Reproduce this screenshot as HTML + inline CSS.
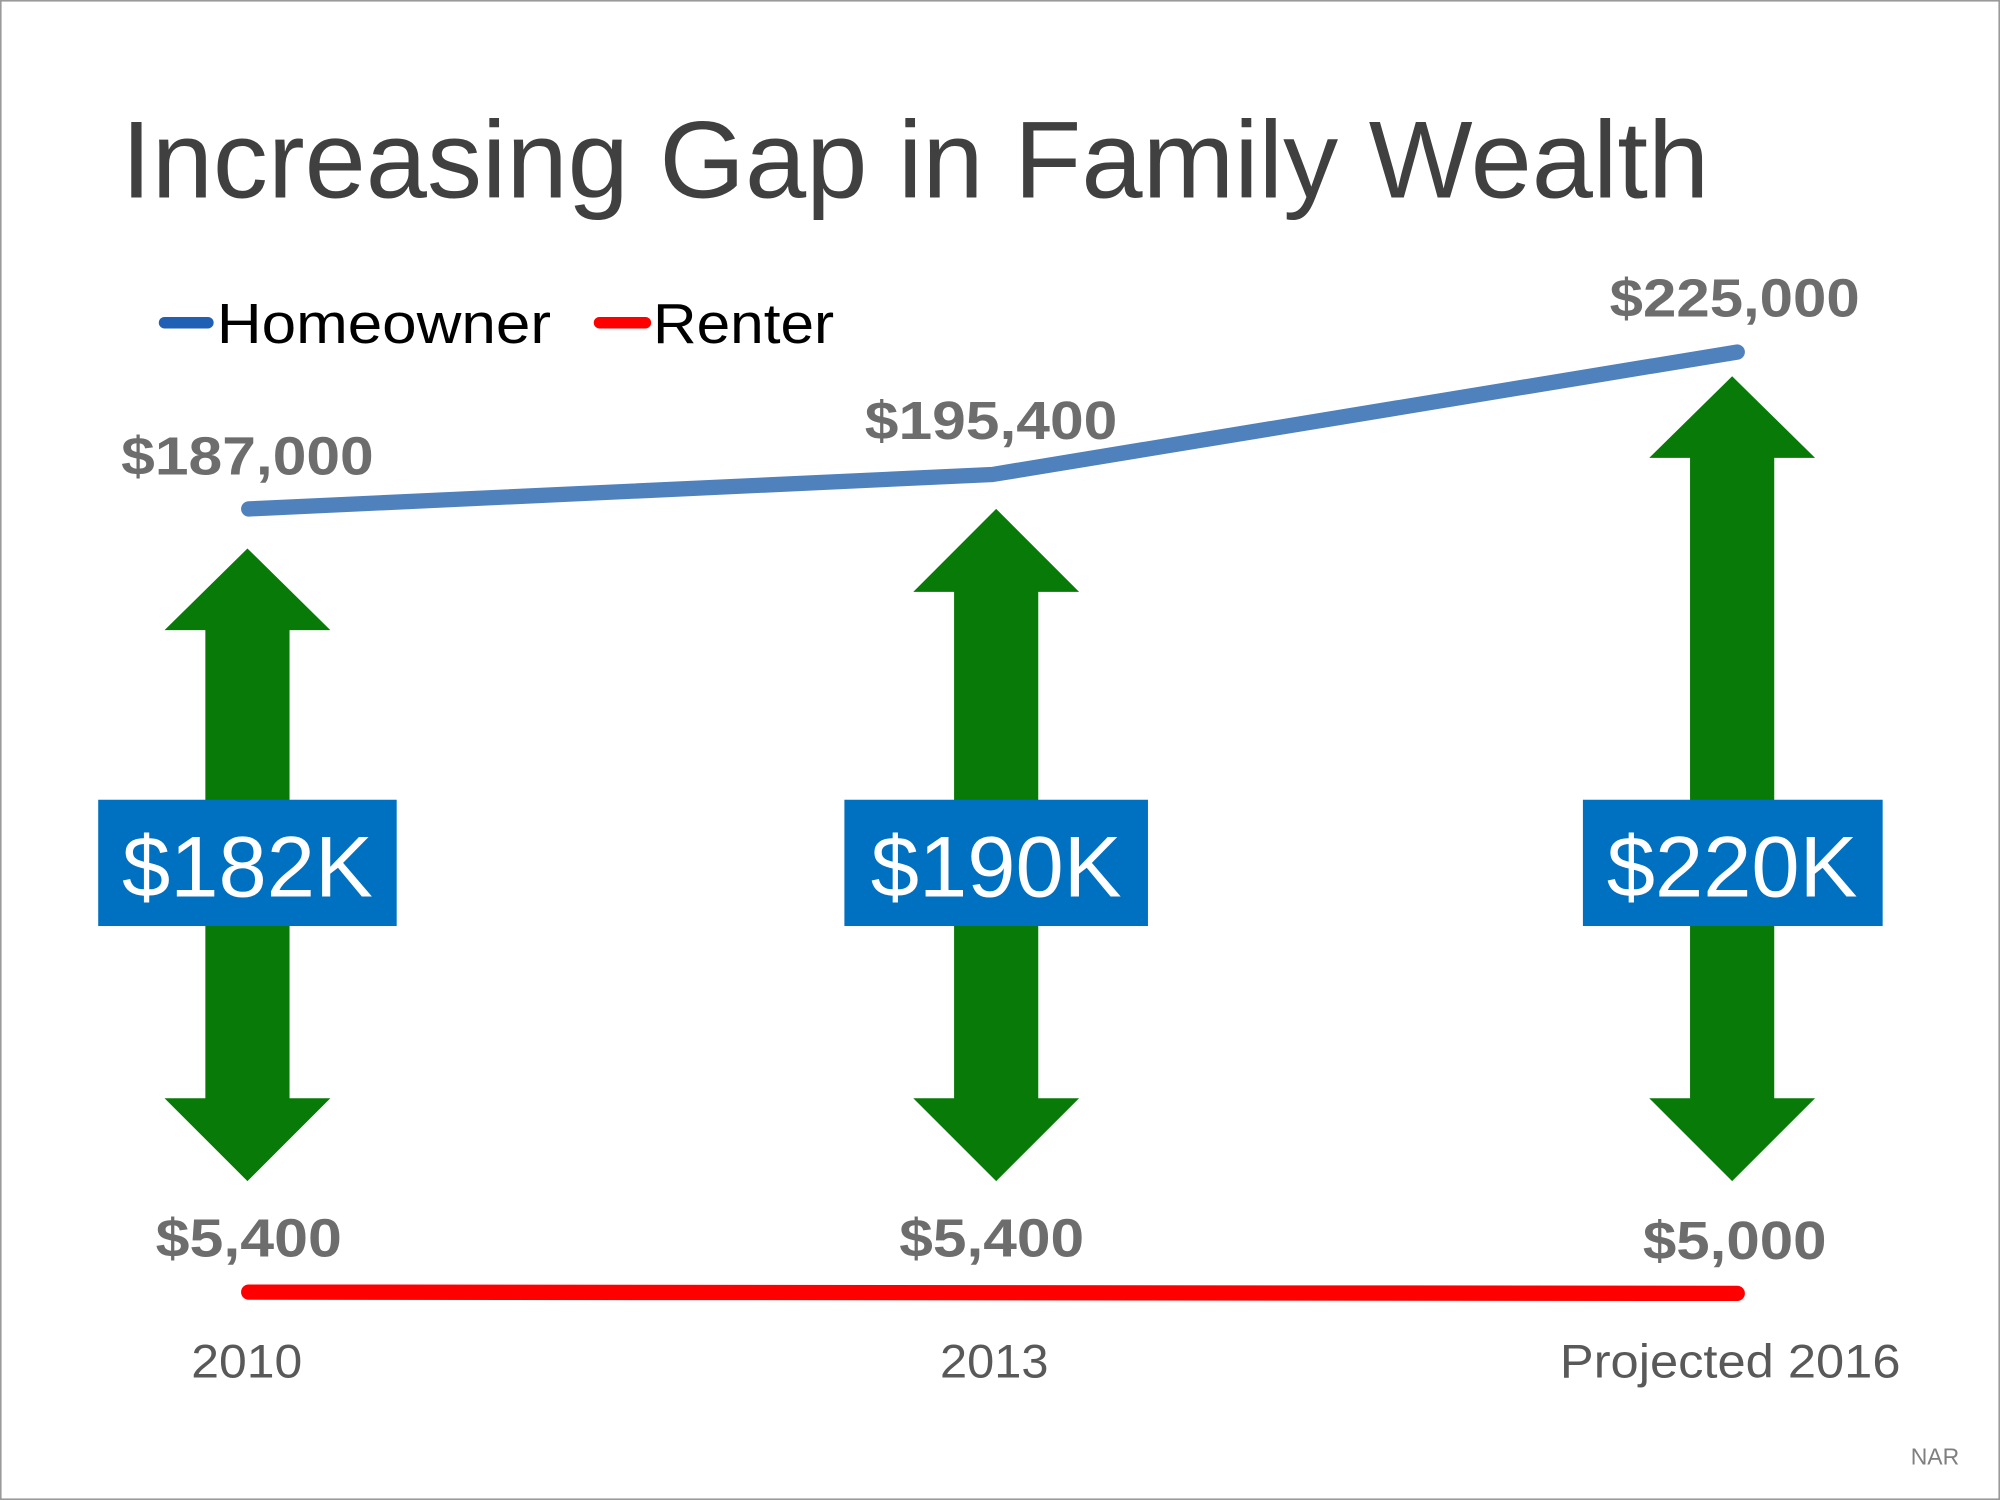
<!DOCTYPE html>
<html><head><style>html,body{margin:0;padding:0;background:#fff}svg{display:block}</style></head>
<body>
<svg width="2000" height="1500" viewBox="0 0 1568 1176" xmlns="http://www.w3.org/2000/svg" font-family="Liberation Sans, sans-serif">
<rect x="0.5" y="0.5" width="1567" height="1175" fill="#fff" stroke="#9a9a9a" stroke-width="1.5"/>
<text x="95" y="155" font-size="86" fill="#404040" textLength="1245" lengthAdjust="spacingAndGlyphs">Increasing Gap in Family Wealth</text>
<line x1="129" y1="253" x2="163" y2="253" stroke="#1f5fb4" stroke-width="9" stroke-linecap="round"/>
<text x="170" y="269" font-size="44" fill="#000" textLength="262" lengthAdjust="spacingAndGlyphs">Homeowner</text>
<line x1="470" y1="253" x2="506" y2="253" stroke="#ff0000" stroke-width="9" stroke-linecap="round"/>
<text x="512" y="269" font-size="44" fill="#000" textLength="142" lengthAdjust="spacingAndGlyphs">Renter</text>
<polyline points="195,399 778,372 1362,276" fill="none" stroke="#4f81bd" stroke-width="12" stroke-linecap="round" stroke-linejoin="round"/>
<line x1="195" y1="1013" x2="1362" y2="1014" stroke="#ff0000" stroke-width="12" stroke-linecap="round"/>
<g font-size="42" font-weight="bold" fill="#6d6d6d">
<text x="95" y="372" textLength="198" lengthAdjust="spacingAndGlyphs">$187,000</text>
<text x="678" y="344" textLength="198" lengthAdjust="spacingAndGlyphs">$195,400</text>
<text x="1262" y="248" textLength="196" lengthAdjust="spacingAndGlyphs">$225,000</text>
<text x="122" y="985" textLength="146" lengthAdjust="spacingAndGlyphs">$5,400</text>
<text x="705" y="985" textLength="145" lengthAdjust="spacingAndGlyphs">$5,400</text>
<text x="1288" y="987" textLength="144" lengthAdjust="spacingAndGlyphs">$5,000</text>
</g>
<g font-size="37" fill="#595959">
<text x="150" y="1080" textLength="87" lengthAdjust="spacingAndGlyphs">2010</text>
<text x="737" y="1080" textLength="85" lengthAdjust="spacingAndGlyphs">2013</text>
<text x="1223" y="1080" textLength="267" lengthAdjust="spacingAndGlyphs">Projected 2016</text>
</g>
<g fill="#087a08">
<polygon points="194,430 259,494 227,494 227,861 259,861 194,926 129,861 161,861 161,494 129,494"/>
<polygon points="781,399 846,464 814,464 814,861 846,861 781,926 716,861 748,861 748,464 716,464"/>
<polygon points="1358,295 1423,359 1391,359 1391,861 1423,861 1358,926 1293,861 1325,861 1325,359 1293,359"/>
</g>
<g fill="#0070c0">
<rect x="77" y="627" width="234" height="99"/>
<rect x="662" y="627" width="238" height="99"/>
<rect x="1241" y="627" width="235" height="99"/>
</g>
<g font-size="68" fill="#fff" text-anchor="middle">
<text x="194" y="703">$182K</text>
<text x="781" y="703">$190K</text>
<text x="1358" y="703">$220K</text>
</g>
<text x="1498" y="1148" font-size="18" fill="#7f7f7f">NAR</text>
</svg>
</body></html>
